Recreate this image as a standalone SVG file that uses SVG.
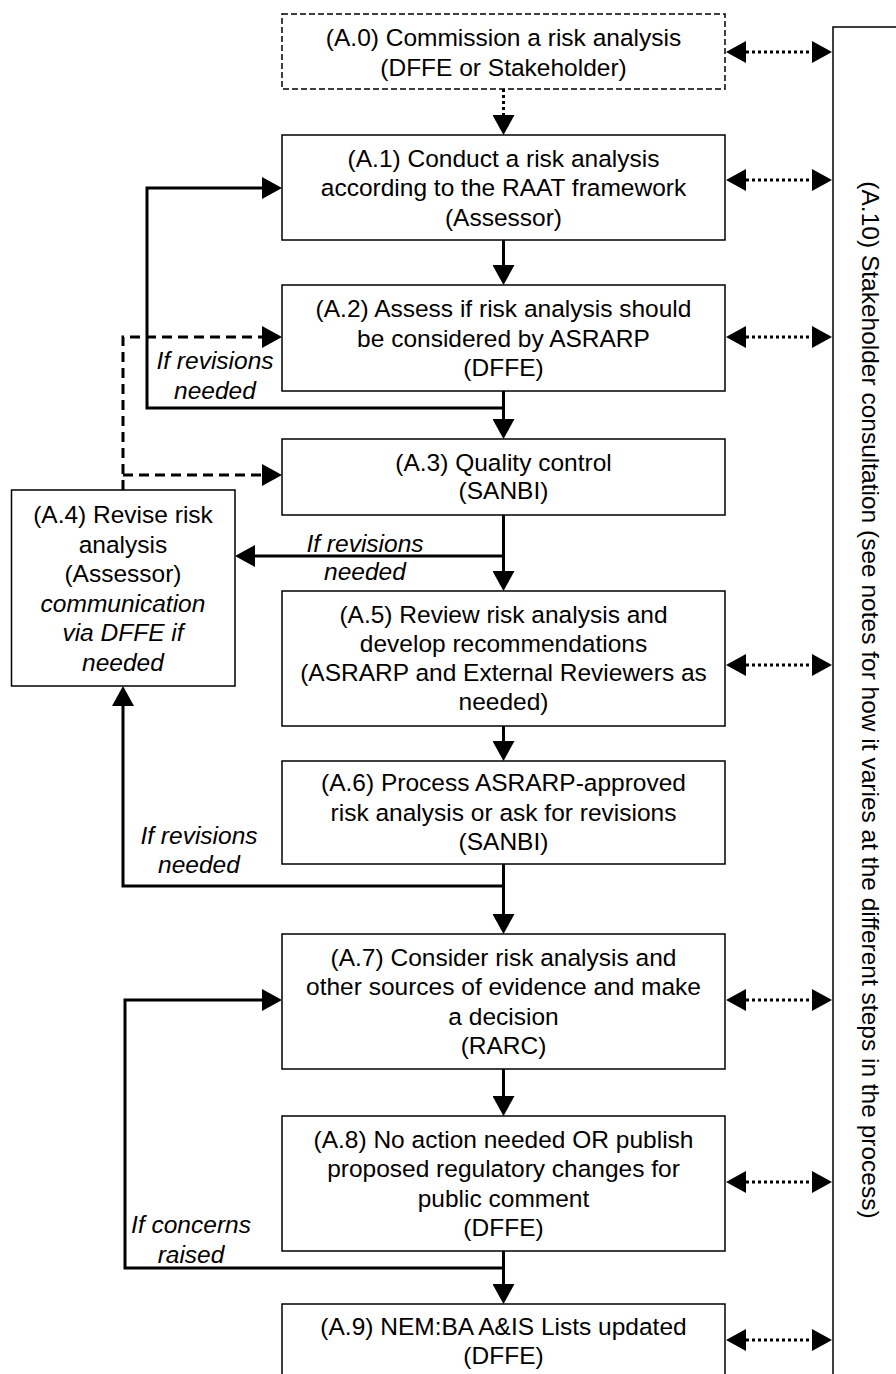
<svg xmlns="http://www.w3.org/2000/svg" width="896" height="1374" viewBox="0 0 896 1374">
<defs>
<style>
.box{fill:#fff;stroke:#000;stroke-width:1.5}
.dbox{fill:#fff;stroke:#000;stroke-width:1.5;stroke-dasharray:6 3}
text{font-family:"Liberation Sans",Arial,sans-serif;font-size:24.5px;fill:#000;text-anchor:middle}
.it{font-style:italic}
.solid{fill:none;stroke:#000;stroke-width:3}
.dashed{fill:none;stroke:#000;stroke-width:3;stroke-dasharray:10 6}
.dotted{fill:none;stroke:#000;stroke-width:3;stroke-dasharray:3 3}
</style>
<marker id="ah" markerUnits="userSpaceOnUse" markerWidth="20" markerHeight="22" viewBox="0 0 20 22" refX="0" refY="11" orient="auto-start-reverse"><path d="M0,0 L20,11 L0,22 z" fill="#000"/></marker>
</defs>
<rect width="896" height="1374" fill="#fff"/>

<g id="A10">
<rect class="box" x="833" y="27" width="100" height="1400"/>
<text transform="translate(862,700) rotate(90)">(A.10) Stakeholder consultation (see notes for how it varies at the different steps in the process)</text>
</g>

<g id="A0">
<rect class="dbox" x="282" y="14" width="443" height="75"/>
<text x="503.5" y="46">(A.0) Commission a risk analysis</text>
<text x="503.5" y="75.5">(DFFE or Stakeholder)</text>
</g>
<g id="A1">
<rect class="box" x="282" y="135" width="443" height="105"/>
<text x="503.5" y="166.5">(A.1) Conduct a risk analysis</text>
<text x="503.5" y="196">according to the RAAT framework</text>
<text x="503.5" y="225.5">(Assessor)</text>
</g>
<g id="A2">
<rect class="box" x="282" y="285" width="443" height="106"/>
<text x="503.5" y="317">(A.2) Assess if risk analysis should</text>
<text x="503.5" y="346.5">be considered by ASRARP</text>
<text x="503.5" y="376">(DFFE)</text>
</g>
<g id="A3">
<rect class="box" x="282" y="439" width="443" height="76"/>
<text x="503.5" y="470.5">(A.3) Quality control</text>
<text x="503.5" y="499">(SANBI)</text>
</g>
<g id="A4">
<rect class="box" x="11.5" y="490" width="223.5" height="196"/>
<text x="123" y="523">(A.4) Revise risk</text>
<text x="123" y="552.5">analysis</text>
<text x="123" y="582">(Assessor)</text>
<text class="it" x="123" y="611.5">communication</text>
<text class="it" x="123" y="641">via DFFE if</text>
<text class="it" x="123" y="670.5">needed</text>
</g>
<g id="A5">
<rect class="box" x="282" y="591" width="443" height="135"/>
<text x="503.5" y="622.5">(A.5) Review risk analysis and</text>
<text x="503.5" y="651.5">develop recommendations</text>
<text x="503.5" y="680.5">(ASRARP and External Reviewers as</text>
<text x="503.5" y="709.5">needed)</text>
</g>
<g id="A6">
<rect class="box" x="282" y="761" width="443" height="103"/>
<text x="503.5" y="791">(A.6) Process ASRARP-approved</text>
<text x="503.5" y="820.5">risk analysis or ask for revisions</text>
<text x="503.5" y="850">(SANBI)</text>
</g>
<g id="A7">
<rect class="box" x="282" y="934" width="443" height="135"/>
<text x="503.5" y="965.5">(A.7) Consider risk analysis and</text>
<text x="503.5" y="995">other sources of evidence and make</text>
<text x="503.5" y="1024.5">a decision</text>
<text x="503.5" y="1054">(RARC)</text>
</g>
<g id="A8">
<rect class="box" x="282" y="1116" width="443" height="135"/>
<text x="503.5" y="1147.5">(A.8) No action needed OR publish</text>
<text x="503.5" y="1177">proposed regulatory changes for</text>
<text x="503.5" y="1206.5">public comment</text>
<text x="503.5" y="1236">(DFFE)</text>
</g>
<g id="A9">
<rect class="box" x="282" y="1304" width="443" height="80"/>
<text x="503.5" y="1335">(A.9) NEM:BA A&amp;IS Lists updated</text>
<text x="503.5" y="1364">(DFFE)</text>
</g>

<g id="connectors">
<path class="dotted" d="M503.5,89 V115" marker-end="url(#ah)"/>
<path class="solid" d="M503.5,240 V265" marker-end="url(#ah)"/>
<path class="solid" d="M503.5,391 V419" marker-end="url(#ah)"/>
<path class="solid" d="M503.5,408 H147 V188 H262" marker-end="url(#ah)"/>
<path class="dashed" d="M123,490 V337 H262" marker-end="url(#ah)"/>
<path class="dashed" d="M123,475 H262" marker-end="url(#ah)"/>
<path class="solid" d="M503.5,515 V571" marker-end="url(#ah)"/>
<path class="solid" d="M503.5,556 H255" marker-end="url(#ah)"/>
<path class="solid" d="M503.5,726 V741" marker-end="url(#ah)"/>
<path class="solid" d="M503.5,864 V914" marker-end="url(#ah)"/>
<path class="solid" d="M503.5,886 H123 V706" marker-end="url(#ah)"/>
<path class="solid" d="M503.5,1069 V1096" marker-end="url(#ah)"/>
<path class="solid" d="M503.5,1251 V1284" marker-end="url(#ah)"/>
<path class="solid" d="M503.5,1268 H125 V1000 H262" marker-end="url(#ah)"/>
<path class="dotted" d="M746,52 H812" marker-start="url(#ah)" marker-end="url(#ah)"/>
<path class="dotted" d="M746,180 H812" marker-start="url(#ah)" marker-end="url(#ah)"/>
<path class="dotted" d="M746,337 H812" marker-start="url(#ah)" marker-end="url(#ah)"/>
<path class="dotted" d="M746,665 H812" marker-start="url(#ah)" marker-end="url(#ah)"/>
<path class="dotted" d="M746,1000 H812" marker-start="url(#ah)" marker-end="url(#ah)"/>
<path class="dotted" d="M746,1182 H812" marker-start="url(#ah)" marker-end="url(#ah)"/>
<path class="dotted" d="M746,1340 H812" marker-start="url(#ah)" marker-end="url(#ah)"/>
<text class="it" x="215" y="369">If revisions</text>
<text class="it" x="215" y="399">needed</text>
<text class="it" x="365" y="552">If revisions</text>
<text class="it" x="365" y="580">needed</text>
<text class="it" x="199" y="844">If revisions</text>
<text class="it" x="199" y="873">needed</text>
<text class="it" x="191" y="1233">If concerns</text>
<text class="it" x="191" y="1263">raised</text>
</g>
</svg>
